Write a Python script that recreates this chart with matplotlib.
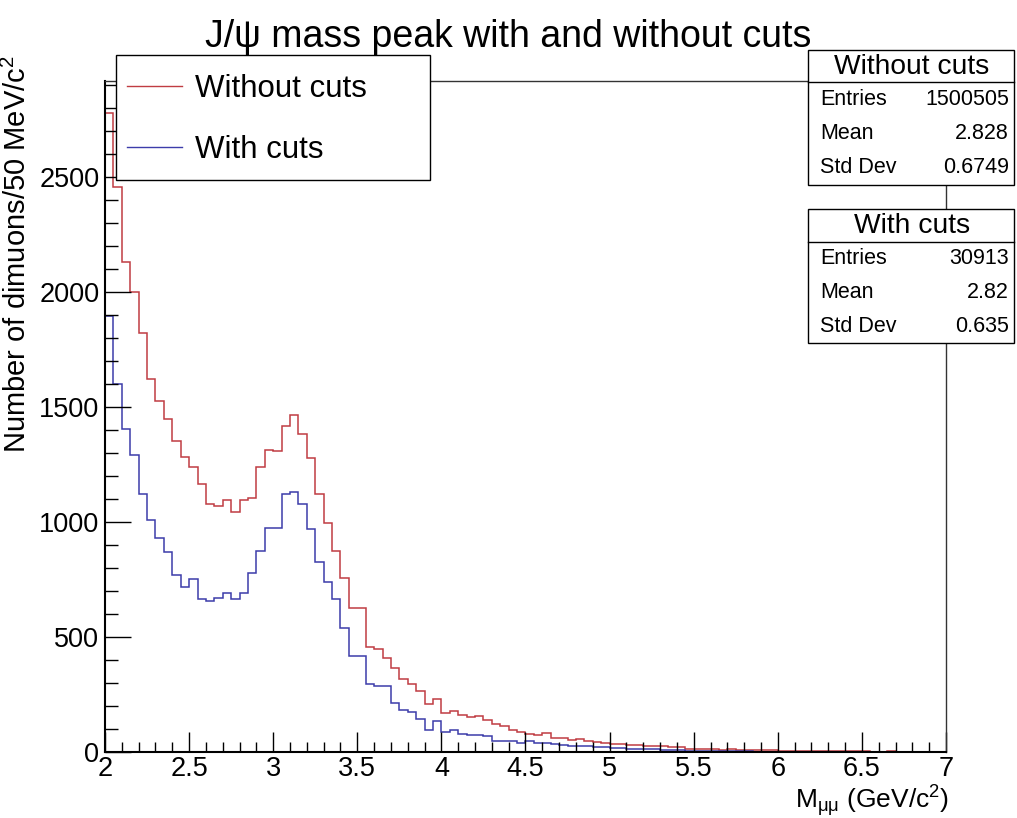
import numpy as np
import matplotlib
matplotlib.use("Agg")
from matplotlib import pyplot as plt
from matplotlib.patches import Rectangle
from matplotlib.lines import Line2D

plt.rcParams['font.family'] = ['Liberation Sans', 'DejaVu Sans']
plt.rcParams['mathtext.fontset'] = 'custom'
plt.rcParams['mathtext.rm'] = 'Liberation Sans'
plt.rcParams['mathtext.it'] = 'Liberation Sans:italic'

# histogram data, 100 bins of 50 MeV from 2 to 7 GeV
edges = np.linspace(2, 7, 101)
no_cuts = [2778, 2457, 2130, 2000, 1822, 1619, 1525, 1445, 1350, 1280,
           1237, 1164, 1076, 1068, 1093, 1043, 1097, 1104, 1237, 1312,
           1307, 1418, 1463, 1380, 1278, 1119, 993, 874, 758, 626,
           626, 457, 449, 410, 367, 319, 294, 265, 210, 230,
           171, 180, 160, 150, 155, 138, 120, 113, 97, 87,
           80, 76, 83, 63, 60, 51, 55, 46, 43, 40,
           36, 33, 30, 32, 28, 25, 24, 22, 20, 15,
           15, 13, 12, 10, 11, 9, 8, 8, 7, 7,
           6, 5, 6, 5, 4, 4, 4, 3, 3, 3,
           3, 2, 2, 3, 2, 2, 1, 1, 2, 1]
with_cuts = [1896, 1597, 1404, 1290, 1119, 1009, 928, 867, 771, 717,
             750, 664, 657, 670, 691, 664, 691, 776, 874, 974,
             974, 1123, 1129, 1079, 969, 826, 739, 663, 539, 416,
             416, 297, 286, 286, 213, 181, 174, 145, 97, 135,
             87, 94, 80, 73, 73, 68, 48, 48, 48, 41,
             48, 38, 38, 33, 29, 26, 26, 24, 22, 20,
             18, 17, 15, 14, 13, 12, 10, 9, 8, 6,
             5, 5, 4, 4, 3, 3, 3, 2, 2, 2,
             2, 1, 1, 1, 1, 1, 1, 1, 1, 1,
             1, 1, 1, 0, 1, 0, 1, 0, 0, 1]

# stat box contents
stats = {
    "Without cuts": [("Entries", "1500505"), ("Mean", "2.828"), ("Std Dev", "0.6749")],
    "With cuts": [("Entries", "30913"), ("Mean", "2.82"), ("Std Dev", "0.635")],
}

red = '#c03c42'
blue = '#3c3caa'

W, H = 1017, 818
fig = plt.figure(figsize=(W / 100, H / 100), dpi=100)

def fx(px):
    return px / W

def fy(py):
    return 1 - py / H

ax = fig.add_axes([fx(105), fy(752), fx(946) - fx(105), fy(80.7) - fy(752)])
ax.stairs(no_cuts, edges, color=red, lw=1.1)
ax.stairs(with_cuts, edges, color=blue, lw=1.1)
ax.set_xlim(2, 7)
ax.set_ylim(0, max(no_cuts) * 1.05)

ax.set_xticks(np.arange(2, 7.01, 0.5))
ax.set_xticklabels(["2", "2.5", "3", "3.5", "4", "4.5", "5", "5.5", "6", "6.5", "7"])
ax.set_xticks(np.arange(2, 7.01, 0.1), minor=True)
ax.set_yticks(np.arange(0, 2501, 500))
ax.set_yticks(np.arange(0, 2901, 100), minor=True)
# tick lengths in points (pixels * 0.72)
ax.tick_params(axis='both', which='both', direction='in', top=False, right=False,
               labelsize=19.5, width=1, color='black')
ax.tick_params(axis='x', which='major', length=14.4, pad=3)
ax.tick_params(axis='x', which='minor', length=7.2)
ax.tick_params(axis='y', which='major', length=18.7, pad=4)
ax.tick_params(axis='y', which='minor', length=9.4)
for s in ['left', 'bottom']:
    ax.spines[s].set_linewidth(1.5)
for s in ['top', 'right']:
    ax.spines[s].set_linewidth(1)
    ax.spines[s].set_color('#333333')

fig.text(0.5, fy(37), r"J/ψ mass peak with and without cuts", ha='center', va='center', fontsize=27)
fig.text(fx(17), fy(55), r"Number of dimuons/50 MeV/c$^{2}$", rotation=90,
         ha='center', va='top', fontsize=21)
fig.text(fx(949), fy(808), r"M$_{\mathrm{μμ}}$ (GeV/c$^{2}$)", ha='right', va='baseline', fontsize=19)

# legend box
fig.patches.append(Rectangle((fx(115.7), fy(180)), fx(430) - fx(115.7), fy(54.7) - fy(180),
                             transform=fig.transFigure, fill=True, facecolor='white',
                             edgecolor='black', lw=1, zorder=5))
handles = [Line2D([], [], color=red, lw=1), Line2D([], [], color=blue, lw=1)]
leg = fig.legend(handles, ["Without cuts", "With cuts"], loc='upper left',
                 bbox_to_anchor=(fx(127), fy(74)), borderaxespad=0, borderpad=0,
                 frameon=False, fontsize=22.5, handlelength=1.75, handletextpad=0.42,
                 labelspacing=1.0)
leg.set_zorder(6)

# stat boxes
boxes = [("Without cuts", 50, 82.3, 185), ("With cuts", 209, 241.7, 343.3)]
for name, top, sep, bottom in boxes:
    fig.patches.append(Rectangle((fx(808), fy(bottom)), fx(1014) - fx(808), fy(top) - fy(bottom),
                                 transform=fig.transFigure, facecolor='white',
                                 edgecolor='black', lw=1, zorder=5))
    fig.add_artist(Line2D([fx(808), fx(1014)], [fy(sep), fy(sep)], transform=fig.transFigure,
                          color='black', lw=1, zorder=6))
    fig.text(fx(912), fy((top + sep) / 2 + 1), name, ha='center', va='center', fontsize=20.3, zorder=7)
    rows = stats[name]
    rh = (bottom - sep) / len(rows)
    for k, (lab, val) in enumerate(rows):
        yc = sep + rh * (k + 0.5)
        fig.text(fx(820), fy(yc), lab, ha='left', va='center', fontsize=15.5, zorder=7)
        fig.text(fx(1009), fy(yc), val, ha='right', va='center', fontsize=15.5, zorder=7)

fig.savefig("out.png", dpi=100)
